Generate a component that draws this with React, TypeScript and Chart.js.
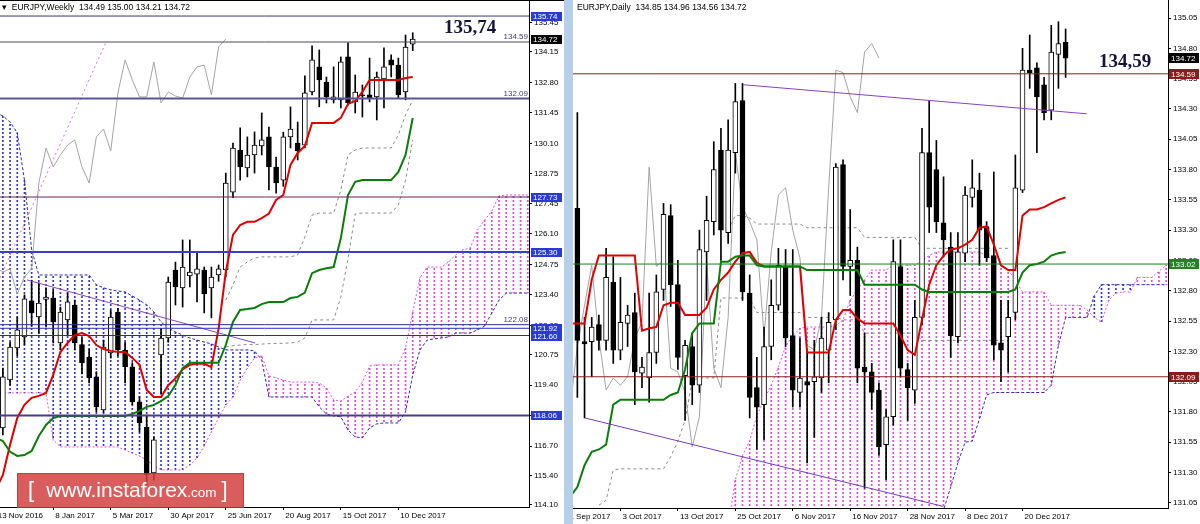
import React, { useEffect, useRef } from "react";
import { Chart, registerables } from "chart.js";

Chart.register(...registerables);

const SANS = '"Liberation Sans", Arial, sans-serif';
const SERIF = '"Liberation Serif", "Times New Roman", serif';

/* ================= WEEKLY EURJPY (left panel) ================= */
const weeklyTickIndex = [0, 8, 16, 24, 32, 40, 48, 56];
const weeklyTickLabels = ["13 Nov 2016", "8 Jan 2017", "5 Mar 2017", "30 Apr 2017", "25 Jun 2017", "20 Aug 2017", "15 Oct 2017", "10 Dec 2017"];
const weeklyPriceTicks = [135.45, 134.15, 132.8, 131.45, 130.1, 128.75, 127.45, 126.1, 124.75, 123.4, 122.05, 120.75, 119.4, 118.05, 116.7, 115.4, 114.1];

const wOpen = [
  115.6, 117.51, 119.63, 121.05, 121.54, 123.13, 122.42, 123.2, 123.26, 121.27,
  122.29, 122.95, 121.2, 120.65, 119.77, 118.31, 120.83, 122.64, 120.96, 120.21,
  118.66, 117.55, 115.52, 120.74, 121.49, 124.5, 123.71, 124.24, 124.32, 124.5,
  123.71, 124.28, 124.5, 127.95, 129.81, 129.02, 129.59, 129.99, 130.39, 129.06,
  128.48, 130.39, 130.12, 130.03, 132.38, 133.49, 132.82, 132.03, 132.03, 133.93,
  131.94, 132.25, 132.25, 132.16, 132.96, 133.8, 133.57, 132.38, 134.49,
];
const wHigh = [
  116.4, 120.16, 121.3, 122.42, 123.4, 124.05, 123.93, 123.71, 123.62, 122.86,
  123.48, 123.17, 121.5, 121.0, 120.0, 121.4, 122.73, 122.8, 121.3, 120.4,
  118.9, 118.08, 117.11, 121.9, 124.19, 124.85, 125.83, 125.83, 125.3, 124.63,
  124.63, 124.72, 128.79, 130.12, 130.79, 130.39, 130.61, 131.45, 130.83, 129.5,
  130.6, 131.72, 131.05, 133.09, 134.42, 134.24, 133.04, 133.49, 133.93, 134.55,
  133.13, 132.69, 133.88, 133.26, 134.33, 134.02, 133.88, 134.9, 135.0,
];
const wLow = [
  115.1, 117.2, 119.4, 120.7, 121.2, 122.0, 121.71, 121.98, 121.27, 120.96,
  121.6, 120.96, 119.9, 119.5, 118.22, 118.2, 120.6, 120.7, 119.5, 118.53,
  117.33, 115.0, 115.2, 119.0, 121.3, 122.95, 122.86, 123.75, 123.09, 122.6,
  122.38, 124.0, 124.2, 127.7, 128.48, 128.62, 128.79, 129.59, 128.04, 127.9,
  128.2, 129.9, 129.37, 129.9, 132.25, 131.72, 131.89, 131.89, 131.67, 131.8,
  131.45, 131.27, 131.94, 131.14, 131.67, 133.04, 132.11, 132.03, 134.21,
];
const wClose = [
  116.2, 119.77, 121.09, 121.85, 123.22, 122.6, 123.04, 123.3, 122.2, 122.64,
  123.09, 121.27, 120.39, 119.72, 118.44, 121.09, 122.42, 120.96, 120.21, 118.66,
  117.73, 115.43, 116.98, 121.49, 123.97, 123.75, 124.63, 124.41, 124.55, 123.44,
  124.19, 124.55, 128.35, 129.9, 129.06, 129.59, 130.03, 130.26, 129.06, 128.35,
  130.39, 130.74, 129.77, 132.34, 133.8, 132.91, 132.16, 132.16, 133.71, 131.89,
  132.38, 132.2, 132.11, 133.04, 133.49, 133.57, 132.25, 134.37, 134.72,
];
const wTenkan = [
  114.76, 115.43, 116.76, 117.95, 118.53, 118.84, 118.93, 119.06, 119.86, 120.87,
  121.27, 121.62, 121.71, 121.58, 121.18, 121.0, 120.92, 120.87, 120.87, 120.61,
  120.3, 119.19, 118.88, 118.88, 119.4, 119.7, 120.1, 120.3, 120.35, 120.35,
  120.2, 121.9, 124.41, 126.05, 126.49, 126.63, 126.63, 126.8, 127.0, 127.6,
  127.82, 129.15, 129.68, 129.99, 131.01, 131.01, 131.01, 131.01, 131.23, 131.85,
  131.98, 132.38, 132.91, 132.91, 132.91, 132.91, 132.91, 133.0, 133.04,
];
const wKijun = [
  117.07, 116.93, 116.45, 116.27, 116.31, 116.49, 117.15, 117.64, 117.95, 118.04,
  118.04, 118.04, 118.04, 118.04, 118.04, 118.04, 118.04, 118.04, 118.04, 118.13,
  118.26, 118.44, 118.53, 118.7, 118.92, 119.41, 120.16, 120.39, 120.39, 120.39,
  120.39, 120.39, 121.18, 122.2, 122.73, 122.77, 122.82, 122.99, 123.08, 123.08,
  123.08, 123.26, 123.31, 123.5, 124.36, 124.5, 124.58, 124.63, 125.9, 127.82,
  128.4, 128.48, 128.48, 128.48, 128.48, 128.48, 128.84, 129.59, 131.23,
];
const wSpanA = [
  131.45, 131.32, 131.05, 130.57, 128.48, 125.39, 124.28, 124.28, 124.28, 124.28,
  124.28, 124.28, 124.28, 124.28, 123.84, 123.71, 123.62, 123.57, 123.53, 123.35,
  123.17, 122.95, 122.64, 122.2, 121.93, 121.76, 121.62, 121.49, 121.4, 121.31,
  121.23, 121.09, 120.96, 120.96, 120.96, 120.96, 120.92, 120.52, 118.88, 118.88,
  118.88, 118.88, 118.88, 118.88, 118.88, 118.44, 118.13, 118.04, 118.0, 117.42,
  117.11, 117.07, 117.51, 117.69, 117.73, 117.73, 117.73, 118.22, 119.86, 120.96,
  121.4, 121.45, 121.49, 121.54, 121.71, 121.71, 121.71, 121.85, 122.02, 122.6,
  123.17, 123.48, 123.48, 123.48, 123.48,
];
const wSpanB = [
  119.06, 119.06, 119.06, 119.06, 119.06, 119.06, 119.06, 119.06, 116.98, 116.67,
  116.67, 116.67, 116.67, 116.67, 116.67, 116.67, 116.67, 116.67, 116.53, 116.4,
  116.27, 116.09, 115.83, 115.65, 115.65, 115.65, 115.65, 115.87, 116.18, 116.71,
  117.33, 117.95, 118.53, 118.88, 119.63, 120.16, 120.61, 120.7, 119.81, 119.72,
  119.63, 119.54, 119.54, 119.54, 119.54, 119.5, 119.28, 118.75, 118.7, 118.92,
  119.1, 119.54, 120.25, 120.3, 120.3, 120.3, 120.3, 121.05, 122.64, 124.15,
  124.63, 124.63, 124.63, 124.86, 125.17, 125.39, 125.48, 126.27, 126.71, 127.11,
  127.78, 127.82, 127.82, 127.82, 127.82,
];
const wRefFrom = 32;
const wRefUpper = [
  123.17, 123.84, 124.63, 124.86, 125.03, 125.08, 125.08, 125.08, 125.08, 125.08,
  125.17, 125.96, 126.93, 127.02, 127.02, 127.02, 128.04, 129.59, 129.81, 129.9,
  129.9, 129.9, 129.9, 129.9, 130.48, 131.36, 132.03,
];
const wRefLower = [
  121.09, 121.15, 121.18, 121.2, 121.2, 121.22, 121.24, 121.25, 121.26, 121.27,
  121.31, 121.49, 122.29, 122.29, 122.29, 122.29, 123.3, 125.0, 126.98, 127.02,
  127.02, 127.02, 127.02, 127.02, 127.38, 128.48, 130.26,
];
const wLevels = [135.74, 134.59, 132.09, 127.73, 125.3, 122.08, 121.92, 121.6, 118.06];
const wAxisMarks = [135.74, 134.72, 127.73, 125.3, 121.92, 121.6, 118.06];
const wLineLabels = [134.59, 132.09, 122.08];
const wTrendLine = [{ x: 4.35, y: 124.06 }, { x: 36.06, y: 121.27 }];
const wDiagLine = [{ x: 0.6, y: 124.15 }, { x: 15.3, y: 134.55 }];
const wNote = { text: "135,74", x: 65.97, y: 135.21 };

/* ================= DAILY EURJPY (right panel) ================= */
const dailyTickIndex = [0, 8, 16, 24, 32, 40, 48, 56, 64];
const dailyTickLabels = ["21 Sep 2017", "3 Oct 2017", "13 Oct 2017", "25 Oct 2017", "6 Nov 2017", "16 Nov 2017", "28 Nov 2017", "8 Dec 2017", "20 Dec 2017"];
const dailyPriceTicks = [135.05, 134.8, 134.55, 134.3, 134.05, 133.8, 133.55, 133.3, 133.05, 132.8, 132.55, 132.3, 132.05, 131.8, 131.55, 131.3, 131.05];

const dOpen = [
  133.0, 133.2, 133.48, 132.38, 132.38, 132.52, 132.39, 132.87, 132.31, 132.53,
  132.62, 132.12, 132.08, 132.29, 132.81, 133.42, 132.85, 132.1, 132.34, 132.02,
  133.12, 133.37, 133.96, 133.28, 133.94, 134.37, 132.78, 132.0, 131.86, 132.34,
  132.68, 133.0, 132.43, 131.96, 132.05, 132.05, 132.08, 132.31, 132.56, 133.84,
  133.0, 133.05, 132.17, 132.13, 131.98, 131.53, 131.76, 133.0, 132.15, 131.98,
  132.58, 133.94, 133.8, 133.36, 133.16, 132.42, 133.11, 133.57, 133.63, 133.33,
  133.09, 132.37, 132.42, 132.62, 133.63, 134.62, 134.64, 134.5, 134.29, 134.75,
  134.85,
];
const dHigh = [
  133.3, 133.6, 134.27, 132.58, 132.58, 132.6, 133.15, 133.08, 132.91, 132.68,
  132.78, 132.25, 132.78, 132.93, 133.52, 133.51, 133.05, 132.39, 132.45, 133.3,
  133.58, 134.03, 134.14, 134.21, 134.51, 134.51, 132.93, 132.25, 132.5, 132.89,
  133.15, 133.14, 133.14, 132.41, 132.31, 132.39, 132.58, 132.62, 133.85, 133.88,
  133.47, 133.16, 132.45, 132.2, 132.04, 131.82, 133.22, 133.22, 132.2, 132.72,
  134.14, 134.37, 134.04, 133.74, 133.28, 133.28, 133.66, 133.88, 133.77, 133.37,
  133.78, 132.72, 132.72, 133.92, 134.8, 134.91, 134.68, 134.56, 134.99, 135.02,
  134.96,
];
const dLow = [
  132.7, 133.0, 131.92, 131.75, 132.09, 132.31, 132.31, 132.2, 132.23, 132.34,
  131.86, 132.0, 131.88, 132.2, 132.72, 132.67, 132.15, 131.73, 131.86, 131.96,
  132.72, 133.26, 133.05, 133.19, 133.77, 132.72, 131.75, 131.49, 131.57, 132.23,
  132.64, 132.34, 131.84, 131.84, 131.38, 131.59, 131.96, 132.04, 132.48, 132.89,
  132.76, 132.04, 131.17, 131.82, 131.44, 131.24, 131.69, 132.09, 131.73, 131.87,
  132.52, 133.28, 133.28, 133.08, 132.25, 132.37, 133.04, 133.49, 133.01, 133.04,
  132.23, 132.05, 132.13, 132.56, 133.61, 134.47, 133.94, 134.21, 134.21, 134.47,
  134.56,
];
const dClose = [
  133.2, 133.45, 132.39, 132.36, 132.5, 132.39, 132.91, 132.31, 132.54, 132.6,
  132.13, 132.17, 132.29, 132.79, 133.43, 132.85, 132.25, 132.35, 132.02, 133.14,
  133.38, 133.8, 133.3, 133.96, 134.36, 132.79, 131.92, 131.84, 132.34, 132.68,
  133.01, 132.41, 131.98, 132.08, 132.02, 132.09, 132.41, 132.54, 133.82, 133.0,
  133.05, 132.16, 132.13, 131.96, 131.51, 131.76, 133.04, 132.16, 132.0, 132.58,
  133.94, 133.49, 133.37, 133.22, 132.43, 133.12, 133.59, 133.65, 133.3, 133.07,
  132.35, 132.31, 132.58, 133.65, 134.62, 134.6, 134.4, 134.27, 134.77, 134.84,
  134.72,
];
const dTenkan = [
  132.53, 132.53, 132.53, 132.53, 132.89, 133.09, 133.09, 133.09, 133.09, 133.09,
  133.09, 132.47, 132.49, 132.5, 132.68, 132.7, 132.7, 132.6, 132.6, 132.6,
  132.66, 132.81, 132.89, 132.95, 133.04, 133.11, 133.12, 133.03, 133.0, 133.0,
  133.0, 133.0, 133.0, 133.0, 132.29, 132.29, 132.29, 132.29, 132.56, 132.64,
  132.64, 132.57, 132.53, 132.53, 132.53, 132.53, 132.53, 132.43, 132.31, 132.27,
  132.56, 132.85, 133.01, 133.09, 133.14, 133.15, 133.18, 133.22, 133.32, 133.33,
  133.18, 133.01, 132.97, 132.97, 133.42, 133.47, 133.47, 133.49, 133.52, 133.55,
  133.57,
];
const dKijun = [
  131.0, 131.1, 131.18, 131.36, 131.47, 131.49, 131.53, 131.86, 131.9, 131.9,
  131.9, 131.9, 131.9, 131.9, 131.9, 131.94, 131.96, 132.15, 132.45, 132.53,
  132.53, 132.53, 133.04, 133.04, 133.08, 133.09, 133.09, 133.01, 133.0, 133.0,
  133.0, 133.0, 133.0, 133.0, 132.97, 132.97, 132.97, 132.97, 132.97, 132.97,
  132.97, 132.97, 132.85, 132.85, 132.85, 132.85, 132.85, 132.85, 132.85, 132.85,
  132.81, 132.79, 132.79, 132.79, 132.79, 132.79, 132.79, 132.79, 132.79, 132.79,
  132.79, 132.79, 132.79, 132.81, 132.95, 133.01, 133.02, 133.04, 133.09, 133.11,
  133.12,
];
const dSpanA = [
  null, null, null, null, null, null, null, null, null, null,
  null, null, null, null, null, null, null, null, null, null,
  null, null, 130.6, 130.6, 130.6, 130.6, 130.6, 130.6, 130.6, 130.6,
  130.6, 130.6, 130.6, 130.6, 130.6, 130.6, 130.6, 130.6, 130.6, 130.6,
  130.6, 130.6, 130.6, 130.6, 130.6, 130.6, 130.6, 130.6, 130.6, 130.6,
  130.6, 130.6, 130.6, 130.99, 131.18, 131.38, 131.55, 131.56, 131.74, 131.94,
  131.96, 131.96, 131.96, 131.96, 131.96, 131.96, 131.96, 131.96, 132.02, 132.35,
  132.58, 132.58, 132.58, 132.58, 132.76, 132.85, 132.85, 132.85, 132.85, 132.85,
  132.85, 132.85, 132.85, 132.85, 132.85,
];
const dSpanB = [
  null, null, null, null, null, null, null, null, null, null,
  null, null, null, null, null, null, null, null, null, null,
  null, null, 130.7, 130.85, 131.24, 131.44, 131.56, 131.77, 131.9, 132.02,
  132.17, 132.34, 132.43, 132.49, 132.5, 132.5, 132.5, 132.5, 132.51, 132.56,
  132.72, 132.81, 132.89, 132.97, 132.97, 132.97, 133.01, 133.01, 133.01, 133.01,
  133.05, 133.09, 133.12, 133.12, 133.12, 133.12, 133.12, 133.12, 133.12, 133.09,
  133.05, 133.01, 132.97, 132.89, 132.79, 132.79, 132.79, 132.79, 132.68, 132.68,
  132.68, 132.68, 132.68, 132.64, 132.58, 132.54, 132.72, 132.78, 132.79, 132.79,
  132.91, 132.91, 132.91, 132.96, 133.01,
];
const dRefUpperFrom = 23;
const dRefUpper = [
  133.3, 133.42, 133.42, 133.4, 133.35, 133.35, 133.35, 133.35, 133.35, 133.35,
  133.35, 133.32, 133.32, 133.32, 133.32, 133.32, 133.32, 133.32, 133.32, 133.24,
  133.24, 133.24, 133.24, 133.24, 133.24, 133.24, 133.24, 133.15, 133.15, 133.15,
  133.15, 133.15, 133.15, 133.15, 133.15, 133.15, 133.15, 133.15, 133.15, 133.15,
];
const dRefLowerFrom = 5;
const dRefLower = [
  131.03, 131.07, 131.32, 131.33, 131.33, 131.33, 131.33, 131.33, 131.33, 131.33,
  131.43, 131.56, 131.73, 132.06, 132.08, 132.08, 132.08, 132.74, 132.74, 132.74,
  132.74, 132.74, 132.62, 132.62, 132.62, 132.62, 132.62, 132.62, 132.62, 132.58,
  132.58, 132.58, 132.58, 132.58, 132.56, 132.56, 132.56, 132.45, 132.45, 132.45,
  132.45, 132.45, 132.45, 132.45, 132.45, 132.39, 132.39, 132.39, 132.39, 132.39,
  132.39, 132.39, 132.39, 132.39, 132.39, 132.39, 132.39, 132.39,
];
const dLevels = [134.59, 133.02, 132.09];
const dAxisMarks = [134.72, 134.59, 133.02, 132.09];
const dTrendUpper = [{ x: 25.07, y: 134.5 }, { x: 72.94, y: 134.26 }];
const dTrendLower = [{ x: 3.06, y: 131.75 }, { x: 52.97, y: 131.02 }];
const dNote = { text: "134,59", x: 78.3, y: 134.687 };

/* ================= styles ================= */
const wLevelStyle = [
  { color: "#35357e", width: 1 },
  { color: "#4a4a5a", width: 1 },
  { color: "#5656a0", width: 2 },
  { color: "#6a2456", width: 1 },
  { color: "#3b3bd2", width: 2 },
  { color: "#30308e", width: 1 },
  { color: "#2e2ec6", width: 1 },
  { color: "#2a2aae", width: 1 },
  { color: "#4c3c8a", width: 2 },
];
const wMarkColors = ["#2b3ad6", "#000000", "#2b3ad6", "#2b3ad6", "#2b3ad6", "#2b3ad6", "#2b3ad6"];
const dLevelStyle = [
  { color: "#8a2020", width: 1 },
  { color: "#1f7f1f", width: 1 },
  { color: "#8a2020", width: 1 },
];
const dMarkColors = ["#000000", "#8a1c1c", "#1d861d", "#8a1c1c"];

type Pt = { x: number; y: number | null };
interface Spec {
  open: number[]; high: number[]; low: number[]; close: number[];
  tenkan: number[]; kijun: number[];
  spanA: (number | null)[]; spanB: (number | null)[];
  refUpper: number[]; refUpperFrom: number; refLower: number[]; refLowerFrom: number;
  levels: number[]; levelStyle: { color: string; width: number }[];
  trends: { pts: Pt[]; color: string; width: number; dash: number[] }[];
  tickIndex: number[]; tickLabels: string[]; priceTicks: number[];
  xMin: number; xMax: number; yMin: number; yMax: number;
  yAxisWidth: number; xAxisHeight: number; padLeft: number;
  marks: number[]; markColors: string[]; markWidth: number; markHeight: number; markGap: number;
  lineLabels: number[];
  note: { text: string; x: number; y: number };
  bodyWidth: number; lag: number;
}

const weeklySpec: Spec = {
  open: wOpen, high: wHigh, low: wLow, close: wClose, tenkan: wTenkan, kijun: wKijun,
  spanA: wSpanA, spanB: wSpanB, refUpper: wRefUpper, refUpperFrom: wRefFrom, refLower: wRefLower, refLowerFrom: wRefFrom,
  levels: wLevels, levelStyle: wLevelStyle,
  trends: [
    { pts: wTrendLine, color: "#8a46c6", width: 1, dash: [] },
    { pts: wDiagLine, color: "#e070c8", width: 1, dash: [2, 3] },
  ],
  tickIndex: weeklyTickIndex, tickLabels: weeklyTickLabels, priceTicks: weeklyPriceTicks,
  xMin: 0.6, xMax: 74.17, yMin: 114.01, yMax: 136.45,
  yAxisWidth: 35, xAxisHeight: 17, padLeft: 0,
  marks: wAxisMarks, markColors: wMarkColors, markWidth: 31, markHeight: 9, markGap: 2,
  lineLabels: wLineLabels, note: wNote, bodyWidth: 5, lag: 26,
};

const dailySpec: Spec = {
  open: dOpen, high: dHigh, low: dLow, close: dClose, tenkan: dTenkan, kijun: dKijun,
  spanA: dSpanA, spanB: dSpanB, refUpper: dRefUpper, refUpperFrom: dRefUpperFrom, refLower: dRefLower, refLowerFrom: dRefLowerFrom,
  levels: dLevels, levelStyle: dLevelStyle,
  trends: [
    { pts: dTrendUpper, color: "#8a40c8", width: 1, dash: [] },
    { pts: dTrendLower, color: "#7a3cc0", width: 1, dash: [] },
  ],
  tickIndex: dailyTickIndex, tickLabels: dailyTickLabels, priceTicks: dailyPriceTicks,
  xMin: 1.393, xMax: 84.26, yMin: 131.007, yMax: 135.199,
  yAxisWidth: 32, xAxisHeight: 16, padLeft: 2,
  marks: dAxisMarks, markColors: dMarkColors, markWidth: 30, markHeight: 10, markGap: 1,
  lineLabels: [], note: dNote, bodyWidth: 5, lag: 26,
};

function dotPattern(ctx: CanvasRenderingContext2D, color: string) {
  const c = document.createElement("canvas");
  c.width = 1;
  c.height = 4;
  const g = c.getContext("2d")!;
  g.fillStyle = color;
  g.fillRect(0, 0, 1, 2);
  return ctx.createPattern(c, "repeat");
}

function lineDs(data: Pt[], color: string, width: number, dash: number[], order: number) {
  return {
    type: "line",
    data,
    borderColor: color,
    borderWidth: width,
    borderDash: dash,
    pointRadius: 0,
    pointHoverRadius: 0,
    fill: false,
    tension: 0,
    spanGaps: false,
    order,
  };
}

function annotPlugin(spec: Spec) {
  return {
    id: "annot",
    afterDraw(chart: any) {
      const { ctx, chartArea: a, scales } = chart;
      const ys = scales.y;
      const xs = scales.x;
      ctx.save();
      ctx.font = `8px ${SANS}`;
      ctx.textAlign = "right";
      ctx.textBaseline = "bottom";
      ctx.fillStyle = "#3e3e72";
      for (const v of spec.lineLabels) {
        ctx.fillText(v.toFixed(2), a.right - 1, ys.getPixelForValue(v) - 1);
      }
      ctx.textAlign = "left";
      ctx.textBaseline = "middle";
      spec.marks.forEach((v, k) => {
        const py = Math.round(ys.getPixelForValue(v));
        ctx.fillStyle = spec.markColors[k];
        ctx.fillRect(a.right + spec.markGap, py - Math.floor(spec.markHeight / 2), spec.markWidth, spec.markHeight);
        ctx.fillStyle = "#ffffff";
        ctx.fillText(v.toFixed(2), a.right + spec.markGap + 2, py + 0.5);
      });
      ctx.font = `bold 19px ${SERIF}`;
      ctx.fillStyle = "#15153a";
      ctx.textAlign = "center";
      ctx.fillText(spec.note.text, xs.getPixelForValue(spec.note.x), ys.getPixelForValue(spec.note.y));
      ctx.restore();
    },
  };
}

function zeroPadding(s: any) {
  s.paddingLeft = 0;
  s.paddingRight = 0;
  s.paddingTop = 0;
  s.paddingBottom = 0;
}

function makeConfig(spec: Spec, ctx: CanvasRenderingContext2D): any {
  const bluePat = dotPattern(ctx, "#3434d0");
  const pinkPat = dotPattern(ctx, "#e048d8");
  const at = (arr: (number | null)[], from = 0): Pt[] => arr.map((v, i) => ({ x: i + from, y: v }));
  const ds: any[] = [];
  ds.push({
    type: "bar",
    data: spec.spanA.map((a, i) => {
      const b = spec.spanB[i];
      return { x: i, y: a == null || b == null ? null : [a, b] };
    }),
    backgroundColor: spec.spanA.map((a, i) => {
      const b = spec.spanB[i];
      return a != null && b != null && a >= b ? bluePat : pinkPat;
    }),
    borderWidth: 0,
    barThickness: 1,
    grouped: false,
    order: 100,
  });
  ds.push(lineDs(at(spec.spanA), "#2d2da8", 1, [3, 2], 90));
  ds.push(lineDs(at(spec.spanB), "#e052d6", 1, [2, 2], 89));
  ds.push(lineDs(at(spec.refUpper, spec.refUpperFrom), "#8a8a8a", 1, [3, 3], 80));
  ds.push(lineDs(at(spec.refLower, spec.refLowerFrom), "#8a8a8a", 1, [3, 3], 79));
  ds.push(lineDs(at(spec.close.slice(spec.lag)), "#a4a4a4", 1, [], 75));
  ds.push({
    type: "bar",
    data: spec.open.map((_, i) => ({ x: i, y: [spec.low[i], spec.high[i]] })),
    backgroundColor: "#000000",
    borderWidth: 0,
    barThickness: 1,
    grouped: false,
    order: 61,
  });
  ds.push({
    type: "bar",
    data: spec.open.map((o, i) => ({ x: i, y: [o, spec.close[i]] })),
    backgroundColor: spec.open.map((o, i) => (spec.close[i] >= o ? "#ffffff" : "#000000")),
    borderColor: "#000000",
    borderWidth: 1,
    borderSkipped: false,
    barThickness: spec.bodyWidth,
    grouped: false,
    order: 60,
  });
  ds.push(lineDs(at(spec.tenkan), "#e30000", 2, [], 40));
  ds.push(lineDs(at(spec.kijun), "#0b7d0b", 2, [], 39));
  spec.trends.forEach((t, k) => ds.push(lineDs(t.pts, t.color, t.width, t.dash, 20 + k)));
  spec.levels.forEach((v, k) =>
    ds.push(
      lineDs(
        [{ x: spec.xMin, y: v }, { x: spec.xMax, y: v }],
        spec.levelStyle[k].color,
        spec.levelStyle[k].width,
        [],
        10 + k
      )
    )
  );

  return {
    type: "bar",
    data: { datasets: ds },
    plugins: [annotPlugin(spec)],
    options: {
      responsive: false,
      maintainAspectRatio: false,
      animation: false,
      devicePixelRatio: 1,
      events: [],
      layout: { padding: { left: spec.padLeft, right: 0, top: 0, bottom: 0 }, autoPadding: false },
      plugins: { legend: { display: false }, tooltip: { enabled: false } },
      scales: {
        x: {
          type: "linear",
          min: spec.xMin,
          max: spec.xMax,
          offset: false,
          afterBuildTicks: (s: any) => {
            s.ticks = spec.tickIndex.map((v) => ({ value: v }));
          },
          afterFit: (s: any) => {
            s.height = spec.xAxisHeight;
            zeroPadding(s);
          },
          ticks: {
            autoSkip: false,
            maxRotation: 0,
            minRotation: 0,
            align: "start",
            labelOffset: 2,
            padding: 1,
            color: "#000000",
            font: { family: SANS, size: 8 },
            callback: (_v: any, i: number) => spec.tickLabels[i],
          },
          grid: { display: true, drawOnChartArea: false, drawTicks: true, tickLength: 3, color: "#000000", offset: false },
          border: { display: true, color: "#000000", width: 1 },
        },
        y: {
          type: "linear",
          position: "right",
          min: spec.yMin,
          max: spec.yMax,
          beginAtZero: false,
          afterBuildTicks: (s: any) => {
            s.ticks = spec.priceTicks.map((v) => ({ value: v }));
          },
          afterFit: (s: any) => {
            s.width = spec.yAxisWidth;
            zeroPadding(s);
          },
          ticks: {
            autoSkip: false,
            padding: 2,
            color: "#000000",
            font: { family: SANS, size: 8 },
            callback: (v: any) => Number(v).toFixed(2),
          },
          grid: { display: true, drawOnChartArea: false, drawTicks: true, tickLength: 3, color: "#000000" },
          border: { display: true, color: "#000000", width: 1 },
        },
      },
    },
  };
}

function Panel({ spec, left, width }: { spec: Spec; left: number; width: number }) {
  const ref = useRef<HTMLCanvasElement | null>(null);
  useEffect(() => {
    const canvas = ref.current;
    if (!canvas) return;
    const ctx = canvas.getContext("2d")!;
    const chart = new Chart(canvas, makeConfig(spec, ctx));
    return () => chart.destroy();
  }, [spec]);
  return (
    <canvas
      ref={ref}
      width={width}
      height={524}
      style={{ position: "absolute", left, top: 0, width, height: 524, display: "block" }}
    />
  );
}

export default function App() {
  useEffect(() => {
    document.body.style.margin = "0";
  }, []);
  return (
    <div style={{ position: "fixed", left: 0, top: 0, width: 1200, height: 524, background: "#ffffff", overflow: "hidden" }}>
      <Panel spec={weeklySpec} left={0} width={564} />
      <Panel spec={dailySpec} left={571} width={629} />
      <div style={{ position: "absolute", left: 0, top: 0, width: 564, height: 1, background: "#000" }} />
      <div style={{ position: "absolute", left: 564, top: 0, width: 9, height: 524, background: "#b7cfe8" }} />
      <div style={{ position: "absolute", left: 2, top: 2, font: `8.5px ${SANS}`, color: "#000", whiteSpace: "pre", lineHeight: "10px", background: "#fff" }}>
        ▾  EURJPY,Weekly  134.49 135.00 134.21 134.72
      </div>
      <div style={{ position: "absolute", left: 577, top: 2, font: `8.5px ${SANS}`, color: "#000", whiteSpace: "pre", lineHeight: "10px" }}>
        EURJPY,Daily  134.85 134.96 134.56 134.72
      </div>
      <div
        style={{
          position: "absolute",
          left: 17,
          top: 473,
          width: 227,
          height: 35,
          boxSizing: "border-box",
          background: "rgba(212, 66, 66, 0.86)",
          border: "1px solid rgba(160, 40, 40, 0.55)",
          color: "#ffffff",
          fontFamily: SANS,
          display: "flex",
          alignItems: "baseline",
          whiteSpace: "pre",
          paddingTop: 3,
          lineHeight: "26px",
        }}
      >
        <span style={{ fontSize: 22, marginLeft: 10 }}>[</span>
        <span style={{ fontSize: 21, marginLeft: 12 }}>www.instaforex</span>
        <span style={{ fontSize: 13.5 }}>.com</span>
        <span style={{ fontSize: 22, marginLeft: 5 }}>]</span>
      </div>
    </div>
  );
}
